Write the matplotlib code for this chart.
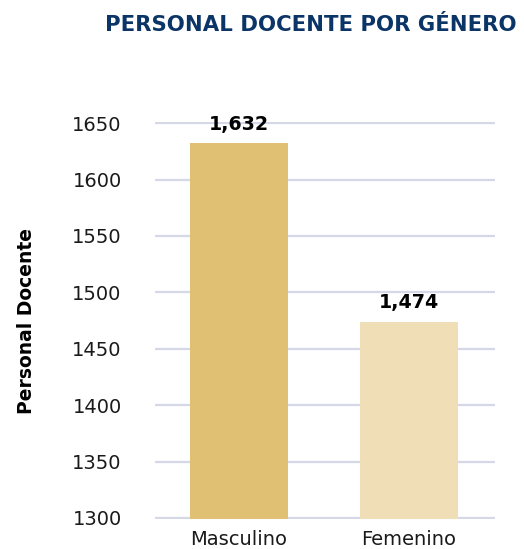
import matplotlib.pyplot as plt

# data
categories = ["Masculino", "Femenino"]
values = [1632, 1474]
bar_colors = ["#E0C072", "#F0DFB6"]
y_ticks = [1300, 1350, 1400, 1450, 1500, 1550, 1600, 1650]

fig = plt.figure(figsize=(5.24, 5.49), dpi=100)
fig.patch.set_facecolor("white")
ax = fig.add_axes([0.2958, 0.0546, 0.6489, 0.7231])

x = list(range(len(categories)))
bars = ax.bar(x, values, width=0.576, color=bar_colors, zorder=3)

ax.set_xlim(-0.494, 1.506)
ax.set_ylim(1299, 1651)
ax.set_yticks(y_ticks)
ax.set_yticklabels([str(t) for t in y_ticks])
ax.set_xticks(x)
ax.set_xticklabels(categories)

ax.grid(axis="y", color="#D5D8E6", linewidth=1.6, zorder=0)
ax.set_axisbelow(True)
for s in ax.spines.values():
    s.set_visible(False)
ax.tick_params(axis="y", length=0, pad=24, labelsize=14, labelcolor="#1a1a1a")
ax.tick_params(axis="x", length=0, pad=8, labelsize=14, labelcolor="#1a1a1a")

ax.set_ylabel("Personal Docente", fontsize=13.5, fontweight="bold",
              labelpad=26, color="black")

for b, v in zip(bars, values):
    ax.annotate(f"{v:,}", xy=(b.get_x() + b.get_width() / 2, v),
                xytext=(0, 10), textcoords="offset points",
                ha="center", va="baseline", fontsize=13.7,
                fontweight="bold", color="black")

fig.text(311 / 524, 1 - 25 / 549, "PERSONAL DOCENTE POR GÉNERO",
         ha="center", va="center", fontsize=15.3, fontweight="heavy",
         color="#0B3467")

plt.savefig("out.png", dpi=100, facecolor="white")
